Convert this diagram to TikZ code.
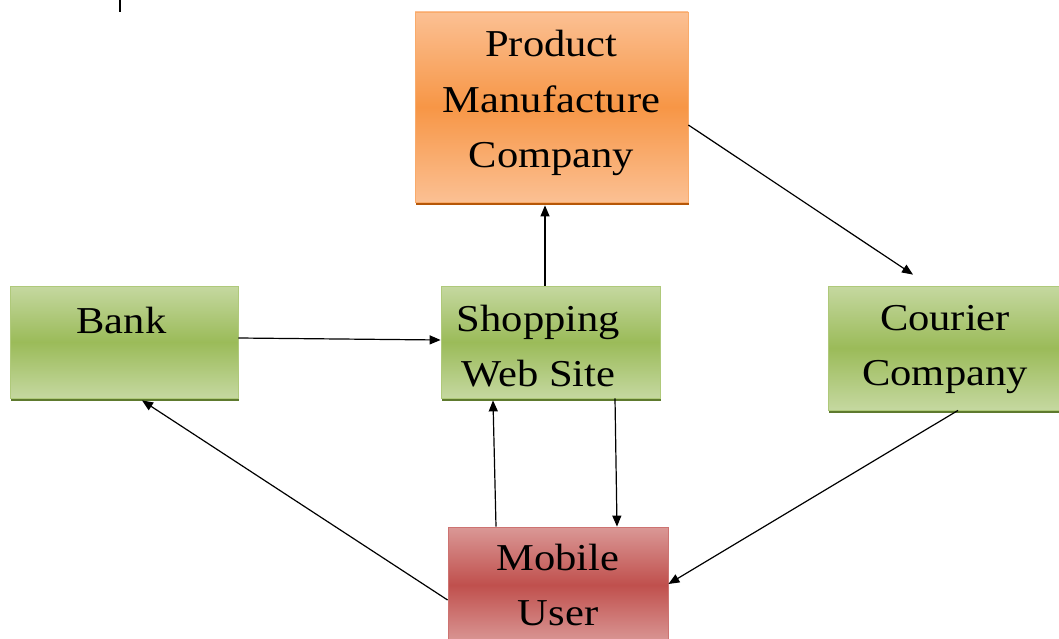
\documentclass[tikz,border=0pt]{standalone}
\usepackage{fontspec}
\setmainfont{Liberation Serif}[FakeStretch=1.12]
\usetikzlibrary{arrows.meta,calc,shadows}
\definecolor{orM}{HTML}{F79646}
\definecolor{orL}{HTML}{FBC093}
\definecolor{orS}{HTML}{B65708}
\definecolor{grM}{HTML}{9BBB59}
\definecolor{grL}{HTML}{C5D8A0}
\definecolor{grS}{HTML}{5E7A2E}
\definecolor{rdM}{HTML}{C0504D}
\definecolor{rdL}{HTML}{DA9896}
\newcommand\boxtext[3]{\raisebox{#2}[\height][\depth]{\begin{tabular}{@{}c@{}}#3\end{tabular}}\hspace*{#1}}
\tikzset{
  boxbase/.style={rectangle, inner sep=0pt, align=center, font=\fontsize{38}{55.5}\selectfont, line width=0.8pt},
  orbox/.style={boxbase, draw=orM!80!white, top color=orL, bottom color=orL, middle color=orM,
     general shadow={fill=orS, shadow yshift=-3pt, shadow xshift=1pt}},
  grbox/.style={boxbase, draw=grM!80!white, top color=grL, bottom color=grL, middle color=grM,
     general shadow={fill=grS, shadow yshift=-3pt, shadow xshift=1pt}},
  rdbox/.style={boxbase, draw=rdM!80!white, top color=rdL, bottom color=rdL, middle color=rdM},
  conn/.style={draw=black, line width=1.2pt, -{Triangle[length=11pt,width=9pt]}}
}
\begin{document}
\begin{tikzpicture}[x=1pt,y=1pt]
\useasboundingbox (0,0) rectangle (1059,-639);
\draw[line width=1.6pt] (120,0) -- (120,-12);
\node[orbox, minimum width=273pt, minimum height=190pt] (prod) at (551.5,-107) {\boxtext{0pt}{6pt}{Product\\Manufacture\\Company}};
\node[grbox, minimum width=228pt, minimum height=112pt] (bank) at (124,-342) {\boxtext{5pt}{20pt}{Bank}};
\node[grbox, minimum width=219pt, minimum height=112pt] (shop) at (550.5,-342) {\boxtext{24pt}{-6pt}{Shopping\\Web Site}};
\node[grbox, minimum width=234pt, minimum height=124pt] (cour) at (945,-348) {\boxtext{0pt}{1pt}{Courier\\Company}};
\node[rdbox, minimum width=220pt, minimum height=116pt] (mob) at (558,-585) {\boxtext{0pt}{-2pt}{Mobile\\User}};
\draw[conn] ($(prod.east)+(0,-18)$) -- ($(cour.north)+(-32,11)$);
\draw[conn] ($(shop.north)+(-5.5,0)$) -- ($(prod.south)+(-6.5,-3)$);
\draw[conn] ($(bank.east)+(0,4)$) -- ($(shop.west)+(0,2)$);
\draw[conn] ($(shop.south)+(64.5,0)$) -- ($(mob.north)+(59,0)$);
\draw[conn] ($(mob.north)+(-62,0)$) -- ($(shop.south)+(-57.5,-2)$);
\draw[conn] ($(mob.west)+(0,-15)$) -- ($(bank.south)+(18,-2)$);
\draw[conn] ($(cour.south)+(13,0)$) -- ($(mob.east)+(0,1)$);
\end{tikzpicture}
\end{document}
